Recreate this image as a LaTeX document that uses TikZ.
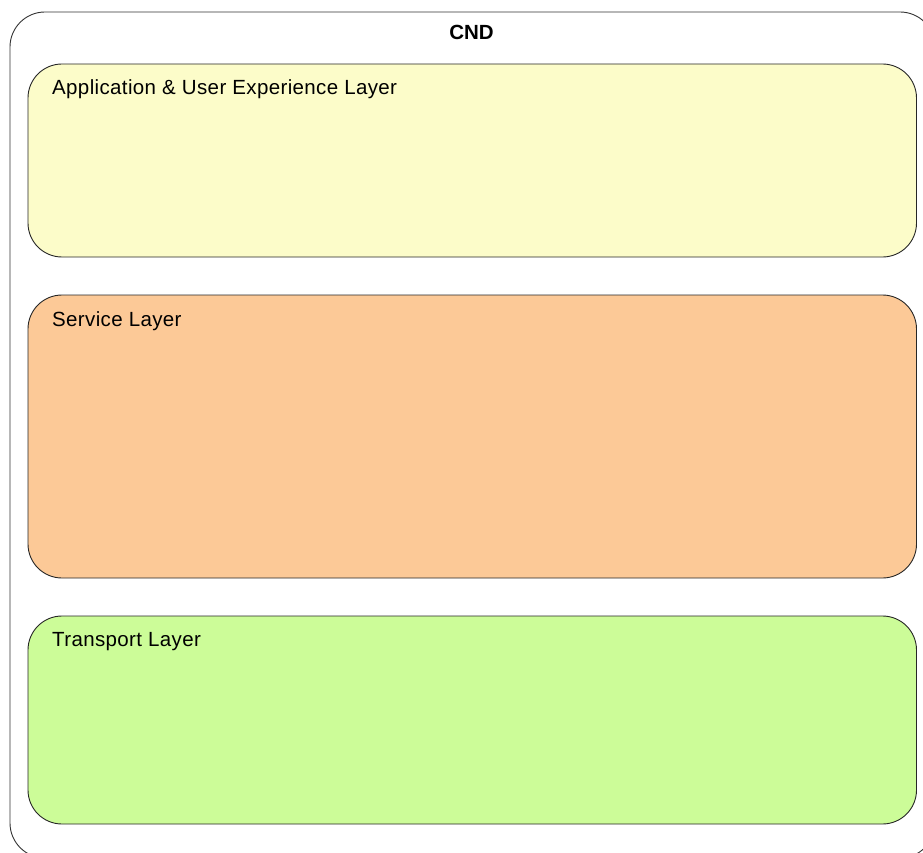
\documentclass[tikz,border=0pt]{standalone}
\usepackage{fontspec}
\setmainfont{Liberation Sans}
\newfontfamily\lblfont[LetterSpace=1.8]{Liberation Sans}
\definecolor{appfill}{HTML}{FCFCC9}
\definecolor{svcfill}{HTML}{FCC997}
\definecolor{trnfill}{HTML}{CCFC98}
\begin{document}
\begin{tikzpicture}[x=1pt,y=-1pt,
  layerbox/.style={draw=black!85, line width=0.9pt, rounded corners=34pt},
  outerbox/.style={draw=black!80, line width=0.9pt, rounded corners=35pt},
  lbl/.style={anchor=base west, inner sep=0pt, font=\lblfont\fontsize{20.5}{24}\selectfont},
  title/.style={anchor=base, inner sep=0pt, font=\fontsize{20.5}{24}\selectfont\bfseries}]
\useasboundingbox (0,0) rectangle (923,853);
\clip (0,0) rectangle (923,853);
\draw[outerbox] (10,12) rectangle (935,858);
\node[title] (cnd) at (471.5,40) {CND};
\draw[layerbox, fill=appfill] (28,64) rectangle (916.5,257);
\node[lbl] (applbl) at (52,95) {Application \& User Experience Layer};
\draw[layerbox, fill=svcfill] (28,295) rectangle (916.5,578);
\node[lbl] (svclbl) at (52,326) {Service Layer};
\draw[layerbox, fill=trnfill] (28,616) rectangle (916.5,824);
\node[lbl] (trnlbl) at (52,646) {Transport Layer};
\end{tikzpicture}
\end{document}
